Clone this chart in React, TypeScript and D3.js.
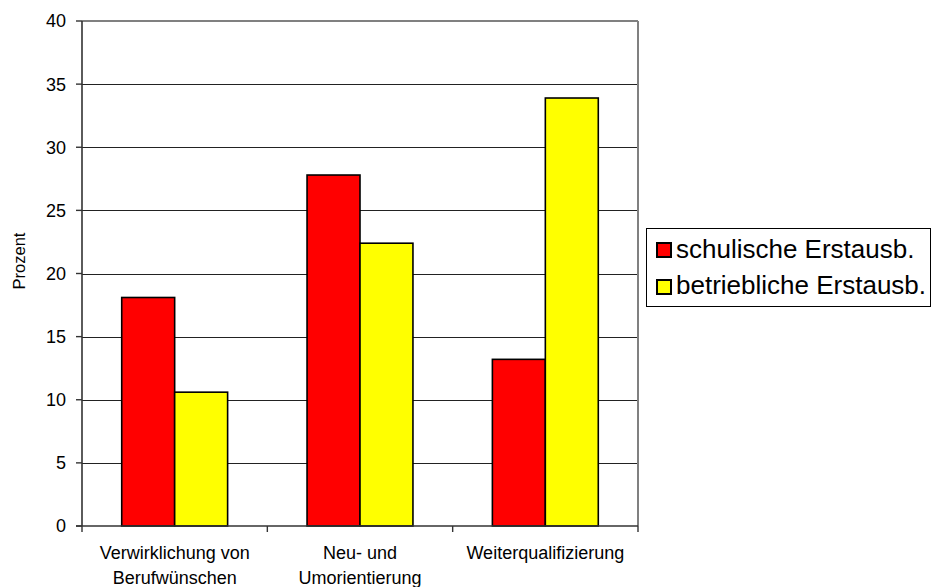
import React from "react";
import * as d3 from "d3";

const categories = [["Verwirklichung von", "Berufwünschen"], ["Neu- und", "Umorientierung"], ["Weiterqualifizierung"]];
const seriesNames = ["schulische Erstausb.", "betriebliche Erstausb."];
const seriesColors = ["#FF0000", "#FFFF00"];
const schulische = [18.1, 27.8, 13.2];
const betriebliche = [10.6, 22.4, 33.9];
const yTicks = [0, 5, 10, 15, 20, 25, 30, 35, 40];

const W = 932, H = 587;
const left = 82, right = 638, top = 21, bottom = 526;
const font = "'Liberation Sans', Arial, sans-serif";

export default function App() {
  const keys = categories.map((c) => c.join(" "));
  const x = d3.scaleBand<string>().domain(keys).range([left, right]).paddingInner(0).paddingOuter(0);
  const y = d3.scaleLinear().domain([0, 40]).range([bottom, top]);
  const bw = x.bandwidth();
  const barW = bw / 3.5;
  const gap = (bw - 2 * barW) / 2;
  const series = [schulische, betriebliche];
  const bounds = [left, ...keys.map((k) => (x(k) as number) + bw)];

  return (
    <svg width={W} height={H} style={{ position: "absolute", left: 0, top: 0, background: "#fff" }} fontFamily={font}>
      {/* gridlines */}
      {yTicks.filter((t) => t > 0 && t < 40).map((t) => (
        <line key={"g" + t} x1={left} x2={right} y1={Math.round(y(t)) + 0.5} y2={Math.round(y(t)) + 0.5} stroke="#222" strokeWidth={1} />
      ))}
      {/* top & right border */}
      <line x1={left} x2={right} y1={y(40)} y2={y(40)} stroke="#808080" strokeWidth={2} />
      <line x1={right} x2={right} y1={top} y2={bottom} stroke="#808080" strokeWidth={2} />
      {/* bars */}
      {series.map((vals, si) =>
        vals.map((v, i) => {
          const bx = (x(keys[i]) as number) + gap + si * barW;
          return (
            <rect key={si + "-" + i} x={bx} y={y(v)} width={barW} height={bottom - y(v)} fill={seriesColors[si]} stroke="#000" strokeWidth={1.6} />
          );
        })
      )}
      {/* axes */}
      <line x1={left} x2={left} y1={top} y2={bottom} stroke="#333" strokeWidth={1.6} />
      <line x1={left - 6} x2={right} y1={bottom} y2={bottom} stroke="#333" strokeWidth={1.6} />
      {yTicks.map((t) => (
        <g key={"t" + t}>
          <line x1={left - 6} x2={left} y1={y(t)} y2={y(t)} stroke="#333" strokeWidth={1.4} />
          <text x={left - 16} y={y(t)} dy="0.36em" textAnchor="end" fontSize={18} fill="#000">{t}</text>
        </g>
      ))}
      {bounds.map((b, i) => (
        <line key={"xt" + i} x1={b} x2={b} y1={bottom} y2={bottom + 6} stroke="#333" strokeWidth={1.4} />
      ))}
      {categories.map((lines, i) => (
        <text key={"c" + i} x={(x(keys[i]) as number) + bw / 2} textAnchor="middle" fontSize={18} fill="#000">
          {lines.map((l, j) => (
            <tspan key={j} x={(x(keys[i]) as number) + bw / 2} y={559 + j * 25}>{l}</tspan>
          ))}
        </text>
      ))}
      <text transform={`translate(25,261) rotate(-90)`} textAnchor="middle" fontSize={16.5} fill="#000">Prozent</text>
      {/* legend */}
      <rect x={646.5} y={228.5} width={284} height={78} fill="#fff" stroke="#000" strokeWidth={1} />
      {seriesNames.map((n, i) => (
        <g key={"l" + i}>
          <rect x={657} y={243 + i * 37} width={14} height={14} fill={seriesColors[i]} stroke="#000" strokeWidth={2} />
          <text x={676} y={258 + i * 36} fontSize={26} fill="#000">{n}</text>
        </g>
      ))}
    </svg>
  );
}
